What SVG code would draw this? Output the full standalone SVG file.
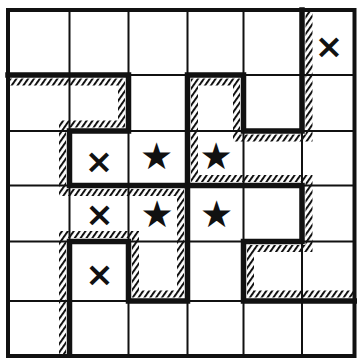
<svg xmlns="http://www.w3.org/2000/svg" width="357" height="358" viewBox="0 0 357 358">
<style>
.grid{stroke:#111;stroke-width:2;fill:none}
.wall{stroke:#111;stroke-width:5.5;fill:none;stroke-linejoin:miter;stroke-linecap:square}
.hatch{stroke:url(#h);stroke-width:7;fill:none;stroke-linejoin:miter;stroke-linecap:butt}
.x{font-family:"DejaVu Sans",sans-serif;font-size:34px;font-weight:bold;text-anchor:middle;fill:#111}
.s{font-family:"DejaVu Sans",sans-serif;font-size:37px;text-anchor:middle;fill:#111}
</style>
<defs>
<pattern id="h" patternUnits="userSpaceOnUse" width="4.8" height="10" patternTransform="rotate(35)">
<rect x="0" y="0" width="2" height="10" fill="#111"/>
</pattern>
</defs>
<rect width="357" height="358" fill="#fff"/>
<g id="hatching">
<polyline class="hatch" points="8,82 121.5,82 121.5,124 62.5,124 62.5,192.5 180.5,192.5 180.5,294 135.5,294 135.5,234.5 62.5,234.5 62.5,356"/>
<polyline class="hatch" points="354.5,294 250.5,294 250.5,248.5 309,248.5 309,178.5 194.5,178.5 194.5,82 236.5,82 236.5,138 309,138 309,10"/>
</g>
<g id="grid" class="grid">
<line x1="69.5" y1="10" x2="69.5" y2="356"/>
<line x1="128.5" y1="10" x2="128.5" y2="356"/>
<line x1="187.5" y1="10" x2="187.5" y2="356"/>
<line x1="243.5" y1="10" x2="243.5" y2="356"/>
<line x1="302" y1="10" x2="302" y2="356"/>
<line x1="8" y1="75" x2="354.5" y2="75"/>
<line x1="8" y1="131" x2="354.5" y2="131"/>
<line x1="8" y1="185.5" x2="354.5" y2="185.5"/>
<line x1="8" y1="241.5" x2="354.5" y2="241.5"/>
<line x1="8" y1="301" x2="354.5" y2="301"/>
</g>
<g id="walls">
<polyline class="wall" points="8,75 128.5,75 128.5,131 69.5,131 69.5,185.5 187.5,185.5 187.5,301 128.5,301 128.5,241.5 69.5,241.5 69.5,356"/>
<polyline class="wall" points="354.5,301 243.5,301 243.5,241.5 302,241.5 302,185.5 187.5,185.5 187.5,75 243.5,75 243.5,131 302,131 302,10"/>
<rect x="8" y="10" width="346.5" height="346" fill="none" stroke="#111" stroke-width="4"/>
</g>
<g id="marks">
<text class="x" x="329" y="57.5">×</text>
<text class="x" x="99" y="172.5">×</text>
<text class="x" x="99.5" y="225.5">×</text>
<text class="x" x="99.5" y="285.5">×</text>
<text class="s" x="156.5" y="169">★</text>
<text class="s" x="216" y="169">★</text>
<text class="s" x="157" y="227">★</text>
<text class="s" x="216.5" y="227">★</text>
</g>
</svg>
